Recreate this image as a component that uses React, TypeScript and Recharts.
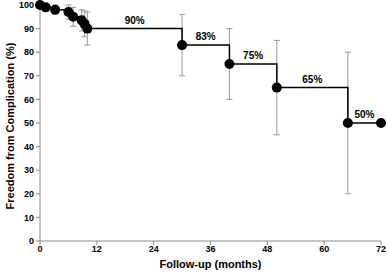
import {ComposedChart, ErrorBar, LabelList, Line, XAxis, YAxis, Label} from 'recharts'

// follow-up times (months) and survival values
const months = [0, 1.2, 3.2, 6, 7, 8.8, 9.4, 10, 30, 40, 50, 65, 72]
const freedom = [100, 99, 98, 97, 95, 93.5, 92, 90, 83, 75, 65, 50, 50]
// half-width of the confidence bars (null = no bar)
const ciHalf = [null, null, 2, 3, 4, 4.5, 5.5, 7, 13, 15, 20, 30, null]

// percentage labels centred over the horizontal steps
const stepMonths = [20, 35, 45, 57.5, 68.5]
const stepValues = [90, 83, 75, 65, 50]
const stepTexts = ['90%', '83%', '75%', '65%', '50%']

const xTicks = [0, 12, 24, 36, 48, 60, 72]
const yTicks = [0, 10, 20, 30, 40, 50, 60, 70, 80, 90, 100]

const data = months.map((m, i) => ({
    month: m,
    value: freedom[i],
    err: ciHalf[i] == null ? undefined : [ciHalf[i], ciHalf[i]],
}))

const labelData = stepMonths.map((m, i) => ({month: m, value: stepValues[i], text: stepTexts[i]}))

const font = 'Liberation Sans, Arial, sans-serif'
const axisColor = '#8a8a8a'
const titleStyle = {fill: '#000', fontSize: 11, fontWeight: 'bold', fontFamily: font}

const App = () => {
    return (
        <div style={{width: 387, height: 275, background: '#fff'}}>
            <style>{'body{margin:0}'}</style>
            <ComposedChart width={387} height={275} margin={{top: 5, right: 6, left: 0, bottom: 0}}>
                <XAxis
                    dataKey="month"
                    type="number"
                    domain={[0, 72]}
                    ticks={xTicks}
                    height={34}
                    stroke={axisColor}
                    tickSize={4}
                    tickMargin={1}
                    interval={0}
                    tick={{fill: '#000', fontSize: 9, fontWeight: 'bold', fontFamily: font}}
                >
                    <Label
                        content={({viewBox}: any) => (
                            <text x={viewBox.x + viewBox.width / 2} y={viewBox.y + viewBox.height - 7}
                                  textAnchor="middle" style={titleStyle}>Follow-up (months)</text>
                        )}
                    />
                </XAxis>
                <YAxis
                    type="number"
                    domain={[0, 100]}
                    ticks={yTicks}
                    width={40}
                    stroke={axisColor}
                    tickSize={4}
                    tickMargin={2}
                    interval={0}
                    tick={{fill: '#000', fontSize: 9, fontWeight: 'bold', fontFamily: font}}
                >
                    <Label
                        content={({viewBox}: any) => {
                            const cx = viewBox.x + 10
                            const cy = viewBox.y + viewBox.height / 2 + 3
                            return (
                                <text x={cx} y={cy} dy={4} textAnchor="middle" transform={`rotate(-90, ${cx}, ${cy})`}
                                      style={titleStyle}>Freedom from Complication (%)</text>
                            )
                        }}
                    />
                </YAxis>
                <Line
                    data={data}
                    dataKey="value"
                    type="stepAfter"
                    stroke="#000"
                    strokeWidth={1.5}
                    dot={{r: 5, fill: '#000', stroke: '#000', strokeWidth: 0}}
                    activeDot={false}
                    isAnimationActive={false}
                >
                    <ErrorBar dataKey="err" direction="y" width={3} stroke="#999" strokeWidth={1} />
                </Line>
                <Line
                    data={labelData}
                    dataKey="value"
                    stroke="none"
                    dot={false}
                    activeDot={false}
                    isAnimationActive={false}
                >
                    <LabelList dataKey="text" position="top" offset={5}
                               style={{fill: '#000', fontSize: 10, fontWeight: 'bold', fontFamily: font}} />
                </Line>
            </ComposedChart>
        </div>
    )
}

export default App
